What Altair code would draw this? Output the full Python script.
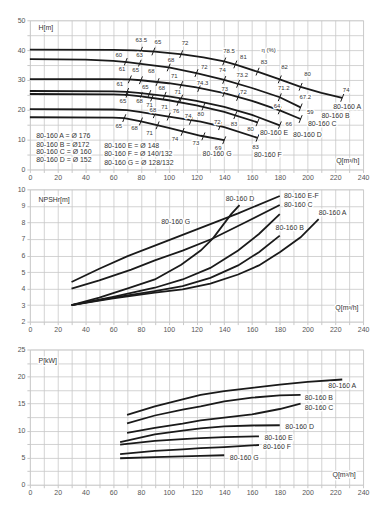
import altair as alt
import pandas as pd

FONT = "Liberation Sans"
LINE = "#1a1a1a"
GRID = "#c8c8c8"

# ---------------- H-Q curves (top) ----------------
hq_A_q = [0, 60, 75, 90, 110, 125, 140, 150, 165, 180, 195, 210, 225]
hq_A_h = [40.2, 40.1, 39.9, 39.5, 38.6, 37.6, 36.2, 34.9, 32.6, 30.2, 27.7, 25.7, 24.0]
hq_B_q = [0, 40, 60, 70, 80, 100, 120, 140, 160, 180, 195]
hq_B_h = [37.0, 36.8, 36.4, 36.0, 35.4, 34.2, 32.3, 30.0, 27.3, 24.2, 20.8]
hq_C_q = [0, 60, 72, 80, 100, 120, 140, 160, 180, 195]
hq_C_h = [30.3, 30.3, 30.2, 29.9, 28.9, 27.5, 25.6, 23.0, 19.8, 16.9]
hq_D_q = [0, 60, 70, 80, 100, 120, 140, 160, 180]
hq_D_h = [26.3, 26.2, 26.0, 25.6, 24.5, 23.0, 21.0, 18.3, 14.8]
hq_E_q = [0, 60, 70, 80, 100, 120, 140, 164]
hq_E_h = [25.3, 25.2, 25.0, 24.5, 23.2, 21.5, 19.3, 15.8]
hq_F_q = [0, 60, 70, 80, 100, 123, 140, 164]
hq_F_h = [20.2, 20.1, 19.9, 19.2, 17.7, 16.0, 14.2, 10.6]
hq_G_q = [0, 60, 68, 80, 100, 123, 140]
hq_G_h = [17.5, 17.4, 17.2, 16.1, 13.9, 11.3, 9.8]

# efficiency tick positions on the curves
eff_tick_q = [80, 89, 109, 140, 148, 164, 180, 195, 225,
              69, 79, 100, 120, 140, 150, 180, 195,
              72, 80, 92, 109, 122, 140, 150, 180, 195,
              70, 86, 97, 109, 180,
              70, 80, 88, 107, 125, 148, 164,
              90, 100, 116, 137, 164,
              68, 80, 92, 110, 125, 140]
eff_tick_h = [39.8, 39.55, 38.65, 36.2, 35.2, 32.8, 30.2, 27.7, 24.0,
              36.05, 35.45, 34.2, 32.3, 30.0, 28.7, 24.2, 20.8,
              30.2, 29.9, 29.3, 28.3, 27.3, 25.6, 24.3, 19.8, 16.9,
              26.0, 25.3, 24.7, 23.8, 14.8,
              25.0, 24.5, 24.0, 22.6, 21.0, 18.2, 15.8,
              18.5, 17.7, 16.3, 14.5, 10.6,
              17.2, 16.1, 14.8, 12.6, 11.1, 9.8]

# efficiency labels
eff_text = ["63.5", "65", "72", "78.5", "81", "83", "82", "80", "74",
            "60", "63", "68", "72", "74", "73.2", "71.2", "67.2",
            "61", "65", "68", "71", "74.3", "73", "72", "64", "59",
            "61", "65", "68", "71", "66",
            "65", "68", "71", "76", "80", "83", "80",
            "68", "71", "74", "72", "83",
            "65", "68", "71", "74", "73", "69", "η (%)"]
eff_text_q = [80.2, 92.2, 111.7, 143.5, 153.8, 168.6, 183.4, 200, 227.8,
              64, 79, 101.7, 125.6, 138.7, 153, 182.9, 198.4,
              66.4, 76.2, 87.4, 104, 124.4, 140.4, 153.8, 178, 202,
              64.7, 83.1, 95, 106.5, 186.5,
              67, 79, 86.2, 105.3, 123, 147, 159,
              88.6, 97, 114, 135, 162.6,
              64, 75.4, 86.2, 104.6, 119.6, 135.6, 172]
eff_text_h = [43.3, 42.8, 42.4, 39.7, 37.7, 36.0, 34.3, 32.1, 26.6,
              38.2, 38.2, 36.7, 34.4, 33.2, 31.6, 27.4, 24.3,
              33.6, 33.3, 33.0, 31.3, 28.9, 27.1, 25.8, 21.3, 19.1,
              28.8, 27.8, 27.2, 26.0, 15.2,
              22.8, 22.8, 21.7, 19.7, 18.6, 15.2, 13.6,
              19.9, 20.8, 18.0, 15.8, 7.4,
              14.7, 13.9, 12.1, 10.2, 8.8, 7.2, 40.0]

top_labels = ["H[m]", "80-160 A", "80-160 B", "80-160 C", "80-160 D", "80-160 E",
              "80-160 F", "80-160 G", "Q[m³/h]",
              "80-160 A = Ø 176", "80-160 B = Ø172", "80-160 C = Ø 160", "80-160 D = Ø 152",
              "80-160 E = Ø 148", "80-160 F = Ø 140/132", "80-160 G = Ø 128/132"]
top_labels_q = [6.2, 218.5, 210, 200.3, 189.6, 165.7, 161.4, 124.4, 220.6,
                4.5, 4.5, 4.5, 4.5, 53.5, 53.5, 53.5]
top_labels_h = [47.4, 20.8, 18.0, 15.2, 11.6, 12.1, 4.7, 5.2, 3.0,
                11.1, 8.3, 5.8, 3.2, 7.8, 5.1, 2.2]

# ---------------- NPSH curves (middle) ----------------
np_names = ["80-160 E-F / G", "80-160 C", "80-160 D", "80-160 B", "80-160 B2", "80-160 A"]
np_q = [[30, 50, 70, 90, 110, 130, 150, 180],
        [30, 50, 73, 90, 110, 131, 155, 180],
        [30, 50, 70, 90, 109, 123, 132, 145, 151],
        [30, 60, 90, 110, 130, 150, 165, 180],
        [30, 60, 90, 110, 130, 150, 165, 180],
        [30, 60, 90, 110, 130, 150, 165, 180, 195, 208]]
np_v = [[4.4, 5.2, 5.95, 6.6, 7.25, 7.9, 8.55, 9.6],
        [4.0, 4.5, 5.15, 5.7, 6.3, 7.0, 8.0, 9.05],
        [3.0, 3.45, 4.0, 4.55, 5.44, 6.3, 7.05, 8.5, 9.05],
        [3.0, 3.5, 4.05, 4.55, 5.25, 6.3, 7.3, 8.5],
        [3.0, 3.45, 3.85, 4.15, 4.65, 5.4, 6.2, 7.2],
        [3.0, 3.4, 3.75, 3.95, 4.3, 4.85, 5.4, 6.2, 7.1, 8.2]]
mid_labels = ["NPSHr[m]", "80-160 G", "80-160 D", "80-160 E-F", "80-160 C", "80-160 B",
              "80-160 A", "Q[m³/h]"]
mid_labels_q = [6.2, 94.6, 141, 183, 183, 177, 208, 220]
mid_labels_v = [9.38, 8.0, 9.44, 9.6, 9.04, 7.67, 8.54, 2.85]

# ---------------- Power curves (bottom) ----------------
p_names = ["A", "B", "C", "D", "E", "F", "G"]
p_q = [[70, 90, 110, 123, 140, 160, 180, 200, 225],
       [70, 90, 110, 123, 140, 160, 180, 195],
       [70, 90, 110, 123, 140, 160, 180, 195],
       [65, 90, 110, 123, 140, 160, 180],
       [65, 90, 110, 123, 140, 165],
       [65, 90, 110, 123, 140, 165],
       [65, 90, 110, 123, 140]]
p_v = [[12.9, 14.5, 15.8, 16.6, 17.3, 17.9, 18.5, 19.0, 19.45],
       [11.35, 12.8, 13.9, 14.5, 15.4, 16.1, 16.5, 16.6],
       [9.6, 10.5, 11.3, 11.9, 12.4, 13.0, 14.0, 15.0],
       [7.9, 9.3, 10.0, 10.4, 10.8, 10.95, 11.0],
       [7.4, 8.1, 8.45, 8.6, 8.8, 8.95],
       [5.65, 6.25, 6.55, 6.75, 6.95, 7.35],
       [4.9, 5.1, 5.25, 5.34, 5.45]]
bot_labels = ["P[kW]", "80-160 A", "80-160 B", "80-160 C", "80-160 D", "80-160 E",
              "80-160 F", "80-160 G", "Q[m³/h]"]
bot_labels_q = [6.2, 215, 198, 198, 184, 169, 168, 144, 218]
bot_labels_v = [22.95, 18.2, 16.1, 14.1, 10.7, 8.6, 7.06, 4.9, 1.8]

# ---------------- build tables ----------------
hq_sets = [("A", hq_A_q, hq_A_h), ("B", hq_B_q, hq_B_h), ("C", hq_C_q, hq_C_h),
           ("D", hq_D_q, hq_D_h), ("E", hq_E_q, hq_E_h), ("F", hq_F_q, hq_F_h),
           ("G", hq_G_q, hq_G_h)]
hq_df = pd.DataFrame([{"c": n, "q": a, "v": b} for n, qs, hs in hq_sets for a, b in zip(qs, hs)])
tick_df = pd.DataFrame({"q": eff_tick_q, "v": eff_tick_h})
eff_df = pd.DataFrame({"t": eff_text, "q": eff_text_q, "v": eff_text_h})
top_lab_df = pd.DataFrame({"t": top_labels, "q": top_labels_q, "v": top_labels_h})

np_df = pd.DataFrame([{"c": n, "q": a, "v": b} for n, qs, vs in zip(np_names, np_q, np_v)
                      for a, b in zip(qs, vs)])
mid_lab_df = pd.DataFrame({"t": mid_labels, "q": mid_labels_q, "v": mid_labels_v})

p_df = pd.DataFrame([{"c": n, "q": a, "v": b} for n, qs, vs in zip(p_names, p_q, p_v)
                     for a, b in zip(qs, vs)])
bot_lab_df = pd.DataFrame({"t": bot_labels, "q": bot_labels_q, "v": bot_labels_v})

W = 335


def xenc():
    return alt.X("q:Q", scale=alt.Scale(domain=[0, 240], nice=False, zero=False),
                 axis=alt.Axis(values=list(range(0, 241, 10)),
                               labelExpr="datum.value % 20 === 0 ? datum.label : ''",
                               title=None, grid=True, gridColor=GRID, gridWidth=0.8,
                               tickColor=GRID, tickSize=3, labelFontSize=7,
                               labelColor="#555", labelFont=FONT, domain=False,
                               labelPadding=1, labelFlush=False))


def yenc(lo, hi, step, lab):
    vals = []
    k = 0
    while lo + k * step <= hi + 1e-9:
        vals.append(round(lo + k * step, 3))
        k += 1
    return alt.Y("v:Q", scale=alt.Scale(domain=[lo, hi], nice=False, zero=False),
                 axis=alt.Axis(values=vals, format="d",
                               labelExpr=f"abs(datum.value / {lab} - round(datum.value / {lab})) < 0.001 ? datum.label : ''",
                               title=None, grid=True, gridColor=GRID, gridWidth=0.8,
                               tickColor=GRID, tickSize=3, labelFontSize=7,
                               labelColor="#555", labelFont=FONT, domain=False,
                               labelPadding=2, labelFlush=False))


def text_layers(df, lo, hi, step, lab, size=7, align="left"):
    base = alt.Chart(df).encode(x=xenc(), y=yenc(lo, hi, step, lab), text="t:N")
    halo = base.mark_text(align=align, baseline="middle", fontSize=size, font=FONT,
                          stroke="white", strokeWidth=3, strokeJoin="round", color="white")
    txt = base.mark_text(align=align, baseline="middle", fontSize=size, font=FONT,
                         color="#333")
    return [halo, txt]


# top panel
top_lines = alt.Chart(hq_df).mark_line(color=LINE, strokeWidth=1.8).encode(
    x=xenc(), y=yenc(0, 50, 5, 10), detail="c:N")
top_ticks = alt.Chart(tick_df).mark_point(
    shape="M-0.4,1L0.4,-1", size=60, filled=False, color=LINE, strokeWidth=1, opacity=1
).encode(x=xenc(), y=yenc(0, 50, 5, 10))
top = alt.layer(
    top_lines, top_ticks,
    *text_layers(eff_df, 0, 50, 5, 10, size=6, align="center"),
    *text_layers(top_lab_df, 0, 50, 5, 10, size=7),
).properties(width=W, height=150)

# middle panel
mid_lines = alt.Chart(np_df).mark_line(color=LINE, strokeWidth=1.8).encode(
    x=xenc(), y=yenc(2, 10, 0.5, 1), detail="c:N")
mid = alt.layer(mid_lines, *text_layers(mid_lab_df, 2, 10, 0.5, 1)).properties(width=W, height=133)

# bottom panel
bot_lines = alt.Chart(p_df).mark_line(color=LINE, strokeWidth=1.8).encode(
    x=xenc(), y=yenc(0, 25, 2.5, 5), detail="c:N")
bot = alt.layer(bot_lines, *text_layers(bot_lab_df, 0, 25, 2.5, 5)).properties(width=W, height=136)

chart = alt.vconcat(alt.vconcat(top, mid, spacing=3), bot, spacing=11).properties(
    padding={"left": 8, "top": 6, "right": 5, "bottom": 5}
).configure_view(stroke="#9a9a9a", strokeWidth=1).configure(background="white")

chart.save("out.html", embed_options={"renderer": "svg", "actions": False})
